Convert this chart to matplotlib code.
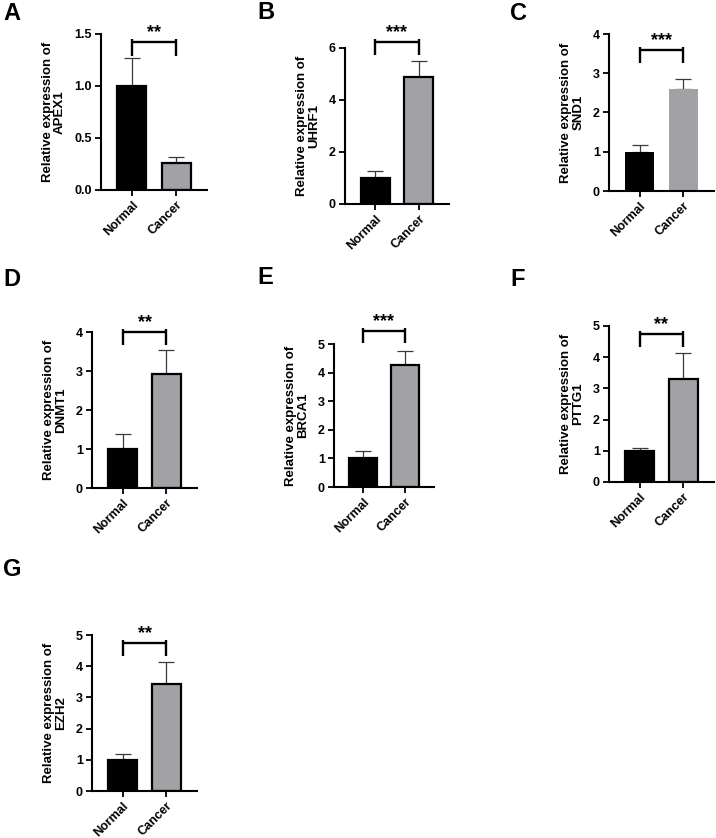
import numpy as np
import matplotlib
matplotlib.use("Agg")
import matplotlib.pyplot as plt

plt.rcParams["font.family"] = ["Liberation Sans", "DejaVu Sans"]

# Data
genes = ["APEX1", "UHRF1", "SND1", "DNMT1", "BRCA1", "PTTG1", "EZH2"]
letters = ["A", "B", "C", "D", "E", "F", "G"]
groups = ["Normal", "Cancer"]
normal_mean = [1.0, 1.0, 1.0, 1.0, 1.0, 1.0, 1.0]
normal_top = [1.27, 1.25, 1.18, 1.38, 1.26, 1.08, 1.17]
cancer_mean = [0.26, 4.88, 2.60, 2.92, 4.25, 3.30, 3.42]
cancer_top = [0.32, 5.50, 2.86, 3.53, 4.75, 4.15, 4.15]
y_max = [1.5, 6, 4, 4, 5, 5, 5]
y_step = [0.5, 2, 1, 1, 1, 1, 1]
sig_y = [1.42, 6.24, 3.59, 4.00, 5.45, 4.74, 4.74]
sig_text = ["**", "***", "***", "**", "***", "**", "**"]

# Axes boxes in pixels: left, right, top, bottom
boxes = [
    (101, 207, 34, 190),
    (345, 449, 48, 204),
    (609, 714, 34, 191),
    (92, 197, 332, 488),
    (334, 434, 344, 487),
    (609, 714, 326, 482),
    (92, 197, 635, 791),
]
letter_pos = [(3, 2), (257, 1), (510, 2), (3, 268), (257, 266), (510, 268), (3, 558)]

W, H = 716, 838
fig = plt.figure(figsize=(W / 100, H / 100), dpi=100)

black = "#000000"
gray = "#a1a1a6"

for i, gene in enumerate(genes):
    l, r, t, b = boxes[i]
    ax = fig.add_axes([l / W, 1 - b / H, (r - l) / W, (b - t) / H])
    x = np.arange(len(groups))
    means = [normal_mean[i], cancer_mean[i]]
    tops = [normal_top[i], cancer_top[i]]
    upper = [tp - m for tp, m in zip(tops, means)]

    ax.errorbar(x, means, yerr=[[0, 0], upper], fmt="none", ecolor="#3a3a3a",
                elinewidth=0.9, capsize=5.5, capthick=0.9, zorder=1)
    # panel C bars drawn without outline
    edge = "none" if gene == "SND1" else black
    ax.bar(x, means, width=0.66, color=[black, gray], edgecolor=edge,
           linewidth=1.6, zorder=2)

    # significance bracket
    ys = sig_y[i]
    d = y_max[i] * 0.085
    u = y_max[i] * 0.02
    ax.plot([0, 1], [ys, ys], color=black, lw=1.7, clip_on=False,
            solid_capstyle="butt")
    ax.vlines([0, 1], ys - d, ys + u, color=black, lw=1.7, clip_on=False)
    ax.text(0.5, ys + y_max[i] * 0.005, sig_text[i], ha="center", va="bottom",
            fontsize=13, fontweight="bold")

    ax.set_xlim(-0.7, 1.7)
    ax.set_ylim(0, y_max[i])
    ticks = np.arange(0, y_max[i] + 1e-9, y_step[i])
    ax.set_yticks(ticks)
    if y_step[i] < 1:
        ax.set_yticklabels([f"{v:.1f}" for v in ticks])
    else:
        ax.set_yticklabels([f"{v:.0f}" for v in ticks])
    ax.set_xticks(x)
    ax.set_xticklabels(groups, rotation=45, ha="right", rotation_mode="anchor")

    for side in ("top", "right"):
        ax.spines[side].set_visible(False)
    for side in ("left", "bottom"):
        ax.spines[side].set_linewidth(1.5)
    ax.tick_params(axis="both", width=1.3, length=4.5, labelsize=9, pad=2)
    for lab in ax.get_xticklabels() + ax.get_yticklabels():
        lab.set_fontweight("bold")

    ax.set_ylabel(f"Relative expression of\n{gene}", fontsize=9.5,
                  fontweight="bold", labelpad=6, linespacing=1.05)

    lx, ly = letter_pos[i]
    fig.text(lx / W, 1 - ly / H, letters[i], ha="left", va="top",
             fontsize=17, fontweight="bold")

fig.savefig("out.png", dpi=100)
